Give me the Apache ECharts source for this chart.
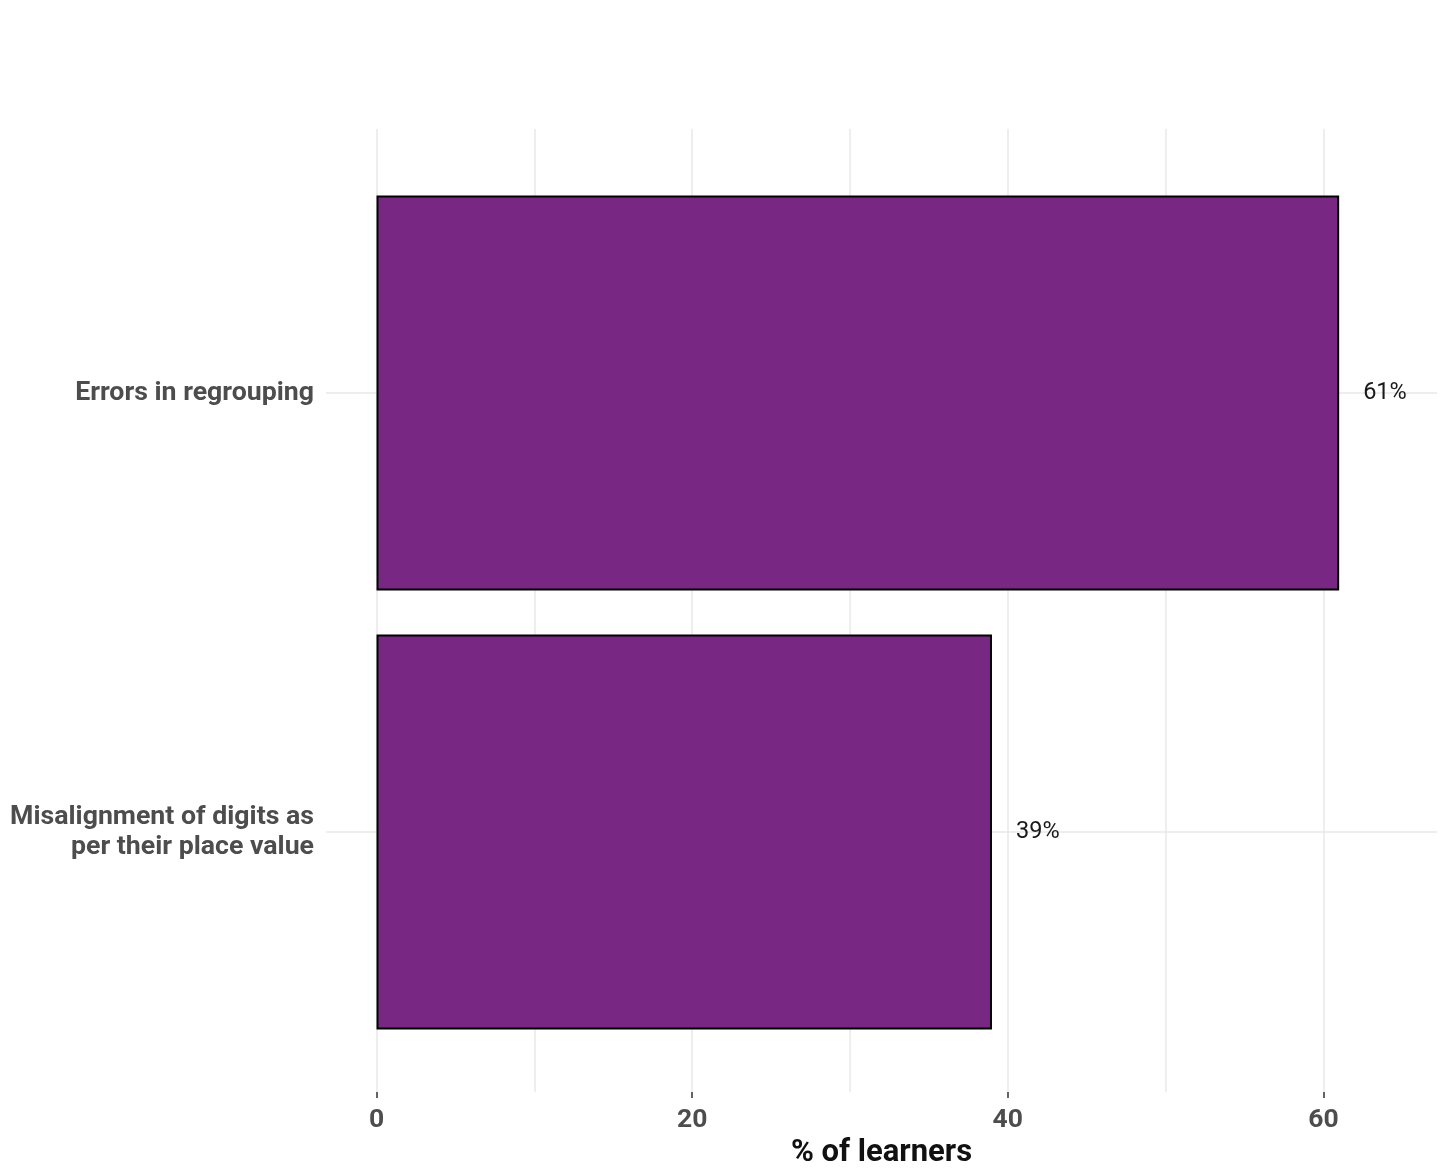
<!DOCTYPE html>
<html>
<head>
<meta charset="utf-8">
<script src="https://cdn.jsdelivr.net/npm/echarts@6/dist/echarts.min.js"></script>
<style>
html,body{margin:0;padding:0;background:#fff;}
#chart{width:1447px;height:1174px;}
</style>
</head>
<body>
<div id="chart"></div>
<script>
// ---- data ----
const categories = ['Errors in regrouping', 'Misalignment of digits as\nper their place value'];
const values = [61, 39];
const tickValues = [0, 20, 40, 60];
const axisTitle = '% of learners';

// ---- layout constants ----
const W = 1447, H = 1174;
const panelLeft = 326, panelRight = 1437;
const xMin = -3.2, xMax = 67.2;
const pxPerUnit = (panelRight - panelLeft) / (xMax - xMin);
const zeroX = panelLeft + (0 - xMin) * pxPerUnit;
const gridTop = 129, gridBottomY = 1092;
const band = 439;
const firstCenter = 393;
const barsTop = firstCenter - band / 2;
const barsBottomY = barsTop + band * categories.length;

const font = 'Roboto, "Noto Sans", sans-serif';
const gridColor = '#e9e9e9';

const chart = echarts.init(document.getElementById('chart'), null, {renderer: 'canvas'});
chart.setOption({
  animation: false,
  backgroundColor: '#ffffff',
  grid: [
    {left: panelLeft, right: W - panelRight, top: barsTop, bottom: H - barsBottomY, containLabel: false},
    {left: zeroX, right: W - panelRight, top: gridTop, bottom: H - gridBottomY, containLabel: false},
    {left: zeroX, width: tickValues[tickValues.length - 1] * pxPerUnit, top: gridTop, bottom: H - gridBottomY, containLabel: false}
  ],
  xAxis: [
    {
      gridIndex: 0, type: 'value', min: xMin, max: xMax, show: true,
      axisLine: {show: false}, axisTick: {show: false}, axisLabel: {show: false}, splitLine: {show: false},
      name: axisTitle, nameLocation: 'middle', nameGap: 86,
      nameTextStyle: {fontFamily: font, fontWeight: 'bold', fontSize: 31, color: '#111111'}
    },
    {
      gridIndex: 1, type: 'value', min: 0, max: xMax, interval: 10,
      axisLine: {show: false}, axisTick: {show: false}, axisLabel: {show: false},
      splitLine: {show: true, showMaxLine: false, lineStyle: {color: gridColor, width: 1.5}}
    },
    {
      gridIndex: 2, type: 'value', min: 0, max: tickValues[tickValues.length - 1], interval: tickValues[1] - tickValues[0],
      axisLine: {show: false},
      axisTick: {show: true, length: 6, lineStyle: {color: '#333333', width: 1.5}},
      axisLabel: {show: true, margin: 15, fontFamily: font, fontWeight: 'bold', fontSize: 26.5, color: '#4d4d4d'},
      splitLine: {show: false}
    }
  ],
  yAxis: [
    {
      gridIndex: 0, type: 'category', data: categories, inverse: true,
      axisLine: {show: false}, axisTick: {show: false}, splitLine: {show: false},
      axisLabel: {show: true, margin: 12, padding: [5, 0, 0, 0], fontFamily: font, fontWeight: 'bold', fontSize: 26.7, lineHeight: 30, color: '#4d4d4d', align: 'right'}
    },
    {gridIndex: 1, type: 'value', show: false},
    {gridIndex: 2, type: 'value', show: false}
  ],
  series: [
    {
      type: 'line', xAxisIndex: 0, yAxisIndex: 0, data: [], z: 1, silent: true,
      markLine: {
        z: 1, zlevel: 0,
        silent: true, symbol: ['none', 'none'], label: {show: false},
        lineStyle: {color: gridColor, width: 1.5, type: 'solid'},
        emphasis: {disabled: true},
        data: categories.map(c => ({yAxis: c}))
      }
    },
    {
      type: 'bar', xAxisIndex: 0, yAxisIndex: 0, z: 3,
      data: values,
      barWidth: '90%',
      itemStyle: {color: '#782882', borderColor: '#000000', borderWidth: 2},
      label: {
        show: true, position: 'right', distance: 24, padding: [4, 0, 0, 0],
        formatter: p => p.value + '%',
        fontFamily: font, fontSize: 23.5, color: '#1a1a1a'
      }
    }
  ]
});
</script>
</body>
</html>
